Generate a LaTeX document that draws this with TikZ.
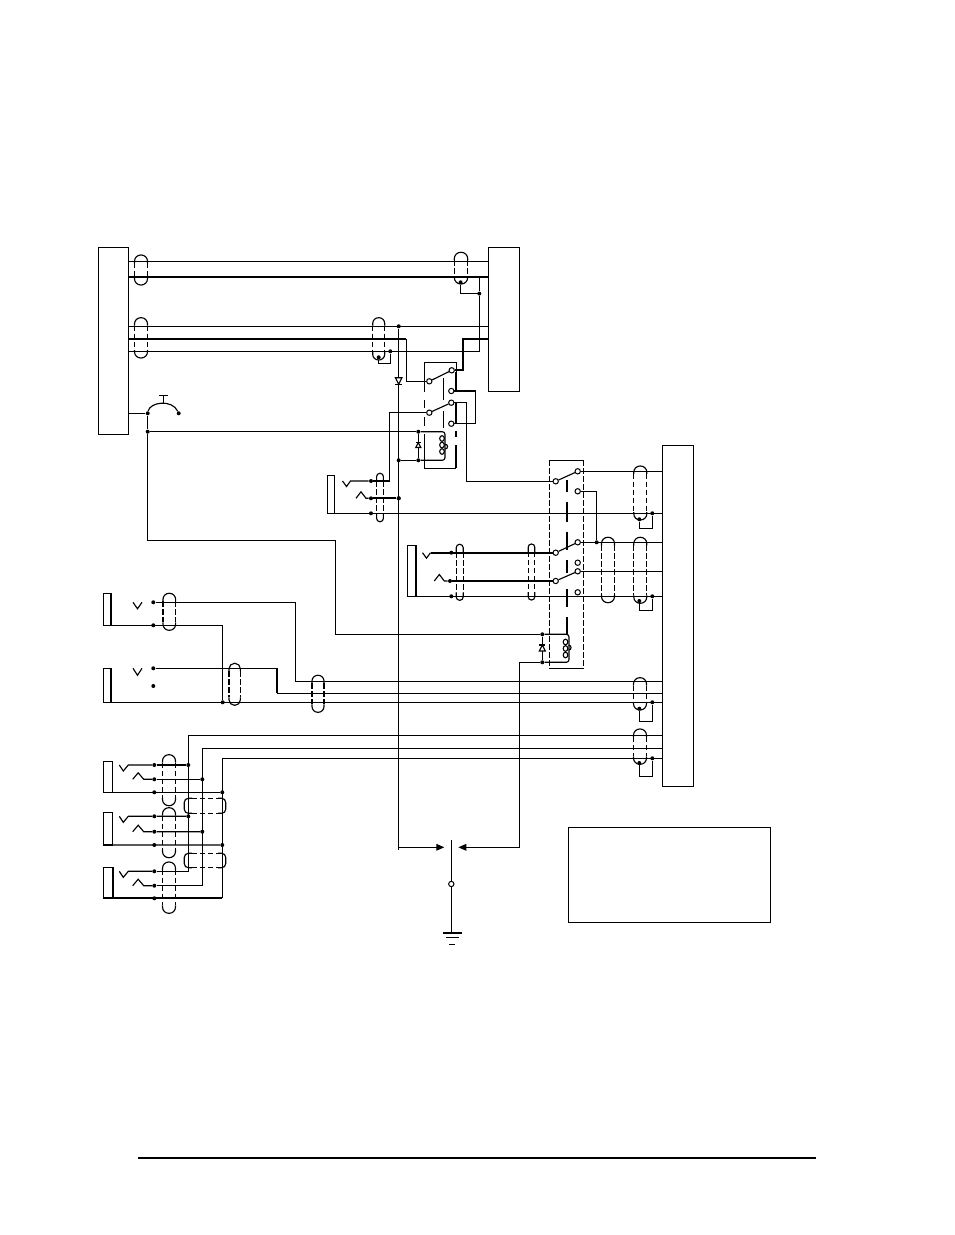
\documentclass[tikz,border=0pt]{standalone}
\usetikzlibrary{arrows.meta}

\tikzset{
   wire/.style = {line width = 0.85pt},
   heavy/.style = {line width = 1.7pt},
   block/.style = {draw, line width = 0.85pt, anchor = north west, inner sep = 0pt, outer sep = 0pt},
   dot/.style = {circle, fill = black, inner sep = 0pt, minimum size = 3pt},
   term/.style = {circle, draw, fill = white, line width = 0.75pt, inner sep = 0pt, minimum size = 4pt},
   screen/.style = {line width = 0.85pt, dash pattern = on 4pt off 2pt}
}

\newcommand{\relaycoil}[3]{%
   \foreach \y in {#2, #2+6.5, #2+13}
      \draw[wire] (#1, \y) ellipse [x radius = 2.3, y radius = 2.8];
   \draw[wire] (#1+3.2, #3) arc [start angle = 90, end angle = -90, radius = 2.4];
}

\newcommand{\diode}[4]{%
   \draw[wire, fill = white] (#1-#3, #2-#4*#3) -- (#1+#3, #2-#4*#3) -- (#1, #2+#4*#3) -- cycle;
   \draw[wire] (#1-#3, #2+#4*#3) -- (#1+#3, #2+#4*#3);
}

\begin{document}
\begin{tikzpicture}[x = 0.75pt, y = -0.75pt]
\useasboundingbox (0,0) rectangle (954,1235);

% blocks
\foreach \n/\x/\y/\w/\h in {boxA/98.3/247.3/30/187, boxB/488.3/247.3/31/144, boxC/662.3/445.3/31.4/341, boxD/568.3/827.3/202/95}
   \node[block, minimum width = \w*0.75pt, minimum height = \h*0.75pt] (\n) at (\x,\y) {};

% jacks
\foreach \n/\x/\y/\w/\h/\r in {jkF/327.3/475.3/7.4/38/0.85, jkG/407.7/545.3/8/51/1.7, jkA/103.7/593.3/7.6/32/1.7, jkB/103.7/668.3/7.6/34/1.7, jkC/103.7/761.3/9/31/0.85, jkD/103.7/812.3/9/32.7/0.85, jkE/103.7/867.3/9/31/1.7} {
   \node[block, minimum width = \w*0.75pt, minimum height = \h*0.75pt] (\n) at (\x,\y) {};
   \draw[line width = \r pt] (\n.north east) -- (\n.south east);
   }

% rail heights
\foreach \n/\y in {railA/261.3, railB/276.7, railC/326.3, railD/339, railE/351.3, railF/681.3, railG/693.3, railH/735.3, railI/748.3, railJ/758.3}
   \coordinate (\n) at (0,\y);

% joints
\foreach \n/\x/\y in {tb/479.3/293.6, tsa/460.6/282.3, tc/390.3/351.3, tsb/378.7/357.3, vt/398.7/326.3, pb/147.7/413.3, pe/178.7/413.3, cc/147.7/431.7, rda/418.3/431.7, rdb/418.3/460.3, vd/398.7/460.3, fa/371/481, fb/371/498.3, fc/371/513.3, vs/398.7/498.3, ga/451.3/552.7, gb/450/581, gc/451.3/596.3, tq/596.7/542.3, rdc/542.3/634.3, rdd/542.3/662.3, dsa/639.3/519.3, dta/652.3/513.3, dsb/639.3/601, dtb/652.3/596.3, dsc/639.3/708.7, dtc/652.3/702.3, dsd/639.3/763, dtd/652.3/758.3, ma/153.3/602.3, mb/153.3/625.3, mc/153.3/668.3, md/153.3/686, tw/222.7/702.3}
   \node[dot] (\n) at (\x,\y) {};

% contacts
\foreach \n/\x/\y in {poA/429.3/381.3, coA/451.7/370.3, noA/451.3/391, poB/429.3/412.7, coB/451.3/402.7, noB/451.3/423.7, poC/555.7/481.3, coC/577.7/471.3, noC/577.7/491.3, poD/555.7/552.7, coD/577.7/542.3, noD/577.7/562.7, poE/555.7/581, coE/577.7/571.3, noE/577.7/592.3}
   \node[term] (\n) at (\x,\y) {};

% bends
\foreach \n/\x/\y in {kD/406.3/339, kE/462.7/370.3, kF/389.7/481, kH/335.3/540.6, kI/466.3/481.3, kJ/475.7/410, kL/295.3/681.3, kM/276.7/668.3, kN/188.3/735.3, kO/202.3/748.3, kP/222.3/758.3, kQ/222.3/898.3, kR/276.7/693.3, kS/519.3/847.3, kV/398.7/847.3, aL/444.3/847.3, aR/458.3/847.3, gT/451.3/840, gO/451.3/884, gB/452.3/932.7, ruleL/138/1158, ruleR/816/1158}
   \coordinate (\n) at (\x,\y);

% upper rails
\draw[wire] (boxA.east |- railA) -- (boxB.west |- railA);
\draw[heavy] (boxA.east |- railB) -- (boxB.west |- railB);
\draw[wire] (boxA.east |- railC) -- (boxB.west |- railC);
\draw[heavy] (boxA.east |- railD) -- (kD);
\draw[wire] (kD) |- (poA);
\draw[heavy] (boxB.west |- railD) -| (kE) -- (coA);
\draw[wire] (boxA.east |- railE) -| (tb) -- (tb |- railB);
\draw[wire] (tsb) -- (tsb |- 0,363.3) -| (tc);

% left push button
\draw[wire] (boxA.east |- pb) -- (pb);
\draw[wire] (pb) .. controls (150,402) and (172,399) .. (pe);
\draw[wire] (163.3,403) -- (163.3,395.3) (159.3,395.3) -- (167.7,395.3);
\draw[wire] (pb) -- (cc) -- (rda);
\draw[wire] (cc) |- (kH) |- (rdc);

% relay one
\draw[wire] (poA) -- (coA) (poB) -- (coB);
\draw[wire] (424.3,392) |- (456.3,362.3) -- (456.3,371.7);
\draw[wire] (424.3,400) -- (424.3,408) (424.3,417) -- (424.3,426);
\draw[wire] (424.3,434) |- (456.3,468.3);
\foreach \a/\b in {371.7/391, 402/424, 431/437, 445/468.3}
   \draw[heavy] (456.3,\a) -- (456.3,\b);
\foreach \a/\b in {378/400, 411/428}
   \draw[wire] (443.3,\a) -- (443.3,\b);
\draw[wire, rounded corners = 2pt] (rda) -| (445,460.3) -- (rdb);
\draw[wire] (rda) -- (rdb) (vd) -- (rdb);
\relaycoil{442}{438.5}{449}
\diode{418.3}{445}{2.5}{-1}
\draw[wire] (noA) -| (kJ) |- (noB);
\draw[wire] (coB) -| (kI) -- (poC);
\draw[wire] (poB) -| (kF) -- (fa);

% long vertical and ground
\draw[wire] (vt) -- (398.7,850);
\diode{398.7}{381}{3.3}{1}
\draw[wire, -{Triangle[length = 6pt, width = 5pt]}] (kV) -- (aL);
\draw[wire, -{Triangle[length = 6pt, width = 5pt]}] (rdd -| kS) -- (kS) -- (aR);
\draw[wire] (rdd -| kS) -- (rdd);
\draw[wire] (gT) -- (gO);
\draw[wire] (gO) -- (gO |- gB);
\node[term] (gN) at (gO) {};
\draw[heavy] (442.7,932.7) -- (462,932.7);
\draw[wire] (446,937.5) -- (459,937.5);
\draw[wire] (449.3,944.3) -- (455.3,944.3);

% jack at the middle
\draw[wire] (342.5,481) -- ++(4,5.5) -- ++(4,-5.5) -- (fa);
\draw[wire] (356,498.3) -- ++(5,-6.5) -- ++(5,6.5) -- (fb);
\draw[heavy] (fb) -- (vs);
\node[dot] at (vs) {};
\draw[wire] (jkF.south east) -- (boxC.west |- jkF.south);

% jack with heavy pair
\draw[wire] (422.5,552.7) -- ++(4,5.5) -- ++(4,-5.5);
\draw[heavy] (430.5,552.7) -- (poD);
\draw[wire] (434.3,581) -- ++(5,-6.5) -- ++(5,6.5) -- (gb);
\draw[heavy] (gb) -- (poE);
\draw[wire] (jkG.south east) -- (boxC.west |- jkG.south);

% relay two
\draw[wire] (poC) -- (coC) (poD) -- (coD) (poE) -- (coE);
\draw[wire] (549.3,460.3) -- (583.7,460.3) (549.3,668.3) -- (583.7,668.3);
\draw[screen] (549.3,460.3) -- (549.3,668.3) (583.7,460.3) -- (583.7,668.3);
\foreach \a/\b in {480/491.7, 501.7/521.7, 531.7/550, 560/573.3, 589.3/606.7, 617.3/635}
   \draw[heavy] (566.7,\a) -- (566.7,\b);
\draw[wire, rounded corners = 2pt] (rdc) -| (569,662.3) -- (rdd);
\draw[wire] (rdc) -- (rdd);
\relaycoil{565.5}{642}{650}
\diode{542.3}{648}{3}{-1}
\draw[wire] (coC) -- (boxC.west |- coC);
\draw[wire] (coD) -- (boxC.west |- coD);
\draw[wire] (coE) -- (boxC.west |- coE);
\draw[wire] (noC) -| (tq);

% two upper left jacks
\draw[wire] (133,602.3) -- ++(4.5,6.5) -- ++(4.5,-6.5);
\draw[wire] (133,668.3) -- ++(4.5,7) -- ++(4.5,-7);
\draw[wire] (ma) -| (kL) -- (boxC.west |- kL);
\draw[wire] (jkA.south east) -| (tw);
\draw[wire] (mc) -- (kM);
\draw[heavy] (kM) -- (kR);
\draw[wire] (kR) -- (boxC.west |- kR);
\draw[wire] (jkB.south east) -- (boxC.west |- jkB.south);

% lower left jacks
\foreach \n/\ya/\yb/\yc in {C/765/779.3/792.3, D/816.3/831.7/845, E/871.3/885.7/898.3} {
   \node[dot] (a\n) at (154.3,\ya) {};
   \node[dot] (b\n) at (154.3,\yb) {};
   \node[dot] (c\n) at (154.3,\yc) {};
   \draw[wire] (119.3,\ya) -- ++(4,6) -- ++(5,-6) -- (a\n);
   \draw[wire] (132.7,\yb) -- ++(5.5,-6.5) -- ++(5.5,6.5) -- (b\n);
   }
\foreach \n in {C,D} {
   \node[dot] (u\n) at (a\n -| kN) {};
   \node[dot] (v\n) at (b\n -| kO) {};
   \node[dot] (w\n) at (c\n -| kP) {};
   \draw[wire] (a\n) -- (u\n) (b\n) -- (v\n) (jk\n.south east) -- (w\n);
   }
\draw[wire] (aE) -| (kN) -- (boxC.west |- kN);
\draw[wire] (bE) -| (kO) -- (boxC.west |- kO);
\draw[heavy] (jkE.south west) -- (kQ);
\draw[wire] (kQ) -- (kP) -- (boxC.west |- kP);

% screens
\foreach \cx/\yt/\yb/\hw in {141/255/285/6.5, 461/252.3/284/6.7, 141/317.7/358/6.5, 378.7/317.7/360/6, 380/473.3/521.7/3.4, 459.7/544.3/600.3/3.5, 531.5/544/600/3.3, 640.3/466/520/6.5, 608/537.3/602.7/6.5, 640.3/537.3/603.3/6.5, 640/677.7/710/6.5, 640/729/764.3/6.5, 169.3/593.3/630.3/6.3, 234.7/663.3/705.3/5.7, 318/675.3/712.3/6, 169/754.7/805.7/6.5, 169/807.7/857.7/6.5, 169/862/913.3/6.5} {
   \draw[wire, rounded corners = \hw*0.72pt] (\cx-\hw,\yt+8) -- (\cx-\hw,\yt) -- (\cx+\hw,\yt) -- (\cx+\hw,\yt+8);
   \draw[wire, rounded corners = \hw*0.72pt] (\cx-\hw,\yb-8) -- (\cx-\hw,\yb) -- (\cx+\hw,\yb) -- (\cx+\hw,\yb-8);
   \draw[screen] (\cx-\hw,\yt+8) -- (\cx-\hw,\yb-8) (\cx+\hw,\yt+8) -- (\cx+\hw,\yb-8);
   }
\foreach \ya/\yb in {798.3/813.3, 853.3/867.7} {
   \draw[wire, rounded corners = 3pt] (192,\ya) -- (184.3,\ya) -- (184.3,\yb) -- (192,\yb);
   \draw[wire, rounded corners = 3pt] (218,\ya) -- (225.7,\ya) -- (225.7,\yb) -- (218,\yb);
   \draw[screen] (192,\ya) -- (218,\ya) (192,\yb) -- (218,\yb);
   }

% drain loops
\foreach \da/\db/\y in {tsa/tb/293.6, dsa/dta/528.3, dsb/dtb/610.6, dsc/dtc/721.3, dsd/dtd/776.3}
   \draw[wire] (\da) -- (\da |- 0,\y) -| (\db);

% page rule
\draw[line width = 1.4pt] (ruleL) -- (ruleR);
\end{tikzpicture}
\end{document}
